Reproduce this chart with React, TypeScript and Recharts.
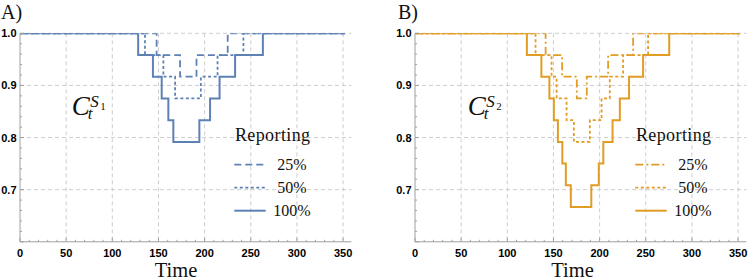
import React from 'react';
import { LineChart, Line, XAxis, YAxis, CartesianGrid, Legend } from 'recharts';

// ---------- data ----------
const reportingLabels = ['25%', '50%', '100%'];
const xTickLabels = [0, 50, 100, 150, 200, 250, 300, 350];
const yTickLabels = [0.7, 0.8, 0.9, 1.0];

// Panel A (C_t^{S1}) : change times and levels of the step curves
const timesA25 = [0, 148, 173.4, 191.2, 225, 352];
const levelsA25 = [1, 0.9583, 0.9167, 0.9583, 1, 1];
const timesA50 = [0, 135.4, 155.3, 168, 195.9, 214, 242, 352];
const levelsA50 = [1, 0.9583, 0.9167, 0.875, 0.9167, 0.9583, 1, 1];
const timesA100 = [0, 128, 144, 153.5, 160.7, 166.1, 194.3, 205.9, 216.2, 233, 263.1, 352];
const levelsA100 = [1, 0.9583, 0.9167, 0.875, 0.8333, 0.7917, 0.8333, 0.875, 0.9167, 0.9583, 1, 1];

// Panel B (C_t^{S2})
const timesB25 = [0, 141.5, 159.4, 175.3, 186.1, 209.2, 236.3, 352];
const levelsB25 = [1, 0.9583, 0.9167, 0.875, 0.9167, 0.9583, 1, 1];
const timesB50 = [0, 130.6, 147.9, 153.4, 164.2, 172.1, 189.4, 202.1, 211, 225.4, 252.5, 352];
const levelsB50 = [1, 0.9583, 0.9167, 0.875, 0.8333, 0.7917, 0.8333, 0.875, 0.9167, 0.9583, 1, 1];
const timesB100 = [0, 121.2, 136.9, 145.6, 150.4, 154.8, 159.6, 163.4, 168.8, 191, 199.1, 204, 214, 221.9, 231.9, 247.1, 275.4, 352];
const levelsB100 = [1, 0.9583, 0.9167, 0.875, 0.8333, 0.7917, 0.75, 0.7083, 0.6667, 0.7083, 0.75, 0.7917, 0.8333, 0.875, 0.9167, 0.9583, 1, 1];

// ---------- helpers ----------
const xMinorTicks = Array.from({ length: 36 }, (_, i) => i * 10);
const yMinorTicks = Array.from({ length: 21 }, (_, i) => Math.round((0.6 + i * 0.02) * 100) / 100);
const toPoints = (ts: number[], vs: number[]) => ts.map((t, i) => ({ t, v: vs[i] }));

const AXIS = '#a0a0a0';
const SERIF = '"Liberation Serif", serif';
const SANS = '"Liberation Sans", Arial, sans-serif';

const XTick = (props: any) => {
  const { x, y, payload } = props;
  const v = payload.value;
  const major = xTickLabels.includes(v);
  return (
    <g>
      <line x1={x} x2={x} y1={y} y2={y - (major ? 4 : 2)} stroke={AXIS} />
      {major && (
        <text x={x} y={y + 15.6} textAnchor="middle" fontFamily={SANS} fontWeight="bold" fontSize={11} fill="#000">
          {v}
        </text>
      )}
    </g>
  );
};

const YTick = (props: any) => {
  const { x, y, payload } = props;
  const v = payload.value;
  const labeled = yTickLabels.some((l) => Math.abs(l - v) < 1e-6);
  const major = labeled || Math.abs(v - 0.6) < 1e-6;
  return (
    <g>
      <line x1={x} x2={x + (major ? 4 : 2)} y1={y} y2={y} stroke={AXIS} />
      {labeled && (
        <text x={x - 3.5} y={y + 4} textAnchor="end" fontFamily={SANS} fontWeight="bold" fontSize={11} fill="#000">
          {v.toFixed(1)}
        </text>
      )}
    </g>
  );
};

type Series = { name: string; data: { t: number; v: number }[]; dash?: string; width: number };

const LegendBox = ({ color, series }: { color: string; series: Series[] }) => (
  <svg width={95} height={100} style={{ display: 'block', overflow: 'visible' }}>
    <text x={42.7} y={19.3} textAnchor="middle" fontFamily={SERIF} fontSize={18} letterSpacing={0.4} fill="#111">
      Reporting
    </text>
    {series.map((s, i) => {
      const cy = 42.7 + i * 23;
      return (
        <g key={s.name}>
          <line x1={4.3} x2={35.7} y1={cy} y2={cy} stroke={color} strokeWidth={s.width} strokeDasharray={s.dash} />
          <text x={62} y={cy + 5} textAnchor="middle" fontFamily={SERIF} fontSize={16} fill="#111">
            {s.name}
          </text>
        </g>
      );
    })}
  </svg>
);

const Panel = ({
  width, marginLeft, marginRight, color, series, legendLeft,
}: {
  width: number; marginLeft: number; marginRight: number; color: string; series: Series[]; legendLeft: number;
}) => (
  <LineChart width={width} height={279} margin={{ top: 33.3, right: marginRight, bottom: 36.2, left: marginLeft }}>
    <CartesianGrid
      stroke="#cdcdcd"
      strokeDasharray="4 3"
      verticalValues={xTickLabels.filter((v) => v > 0)}
      horizontalValues={yTickLabels}
    />
    <XAxis
      dataKey="t"
      type="number"
      domain={[0, 359]}
      ticks={xMinorTicks}
      interval={0}
      tick={<XTick />}
      tickLine={false}
      tickSize={0}
      tickMargin={0}
      height={1}
      axisLine={{ stroke: AXIS }}
      allowDataOverflow
    />
    <YAxis
      type="number"
      domain={[0.6, 1.0]}
      ticks={yMinorTicks}
      interval={0}
      tick={<YTick />}
      tickLine={false}
      tickSize={0}
      tickMargin={0}
      width={1}
      axisLine={{ stroke: AXIS }}
      allowDataOverflow
    />
    {series.map((s) => (
      <Line
        key={s.name}
        name={s.name}
        data={s.data}
        dataKey="v"
        type="stepAfter"
        stroke={color}
        strokeWidth={s.width}
        strokeDasharray={s.dash}
        dot={false}
        activeDot={false}
        isAnimationActive={false}
      />
    ))}
    <Legend
      layout="vertical"
      align="center"
      verticalAlign="middle"
      wrapperStyle={{ left: legendLeft, top: 122, width: 95, height: 100 }}
      content={() => <LegendBox color={color} series={series} />}
    />
  </LineChart>
);

const BLUE = '#5E81B5';
const ORANGE = '#E19C24';

const seriesA: Series[] = [
  { name: reportingLabels[0], data: toPoints(timesA25, levelsA25), dash: '7 4', width: 1.8 },
  { name: reportingLabels[1], data: toPoints(timesA50, levelsA50), dash: '3 2.5', width: 1.8 },
  { name: reportingLabels[2], data: toPoints(timesA100, levelsA100), width: 2 },
];
const seriesB: Series[] = [
  { name: reportingLabels[0], data: toPoints(timesB25, levelsB25), dash: '8 3 2 3', width: 1.8 },
  { name: reportingLabels[1], data: toPoints(timesB50, levelsB50), dash: '3 2.5', width: 1.8 },
  { name: reportingLabels[2], data: toPoints(timesB100, levelsB100), width: 2 },
];

const CLabel = ({ x, sub }: { x: number; sub: string }) => (
  <text fontFamily={SERIF} fill="#111">
    <tspan x={x} y={115} fontSize={27} fontStyle="italic">C</tspan>
    <tspan x={x + 18.5} y={106.5} fontSize={17} fontStyle="italic">S</tspan>
    <tspan x={x + 28.5} y={110} fontSize={11}>{sub}</tspan>
    <tspan x={x + 16} y={119} fontSize={17} fontStyle="italic">t</tspan>
  </text>
);

export default function App() {
  return (
    <div style={{ position: 'absolute', left: 0, top: 0, width: 749, height: 279, background: '#fff' }}>
      <div style={{ position: 'absolute', left: 0, top: 0 }}>
        <Panel width={370} marginLeft={19} marginRight={18.6} color={BLUE} series={seriesA} legendLeft={230} />
      </div>
      <div style={{ position: 'absolute', left: 375, top: 0 }}>
        <Panel width={374} marginLeft={39} marginRight={2.6} color={ORANGE} series={seriesB} legendLeft={256} />
      </div>
      <svg width={749} height={279} style={{ position: 'absolute', left: 0, top: 0, pointerEvents: 'none' }}>
        <text x={1} y={18.5} fontFamily={SERIF} fontSize={20} fill="#111">A)</text>
        <text x={398} y={18.5} fontFamily={SERIF} fontSize={20} fill="#111">B)</text>
        <CLabel x={71.7} sub="1" />
        <CLabel x={467.7} sub="2" />
        <text x={176} y={276.5} textAnchor="middle" fontFamily={SERIF} fontSize={20.5} fill="#111">Time</text>
        <text x={572.5} y={276.5} textAnchor="middle" fontFamily={SERIF} fontSize={20.5} fill="#111">Time</text>
      </svg>
    </div>
  );
}
